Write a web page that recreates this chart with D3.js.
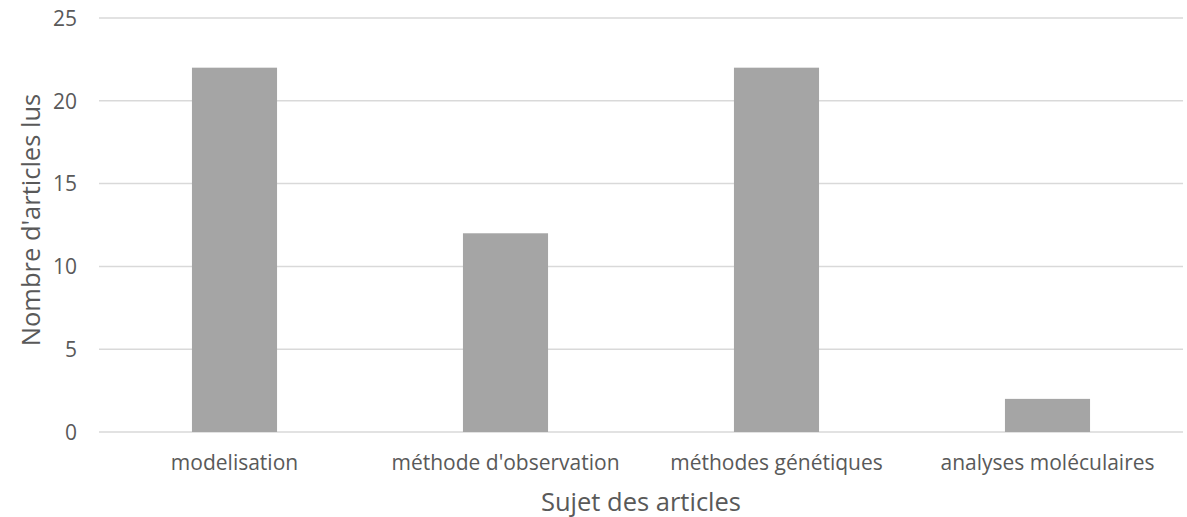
<!DOCTYPE html>
<html>
<head>
<meta charset="utf-8">
<script src="https://cdn.jsdelivr.net/npm/d3@7"></script>
<style>
  html, body { margin: 0; padding: 0; background: #fff; }
  svg text { font-family: "Open Sans", "Noto Sans", sans-serif; fill: #595959; }
</style>
</head>
<body>
<svg id="chart" width="1187" height="517"></svg>
<script>
// Number of articles read per subject
const categories = ["modelisation", "méthode d'observation", "méthodes génétiques", "analyses moléculaires"];
const counts = [22, 12, 22, 2];
const yTicks = [0, 5, 10, 15, 20, 25];
const xTitle = "Sujet des articles";
const yTitle = "Nombre d'articles lus";

const svg = d3.select("#chart");
const margin = { left: 99, right: 4, top: 18, bottom: 85 };
const W = 1187, H = 517;

const x = d3.scaleBand()
  .domain(categories)
  .range([margin.left, W - margin.right])
  .paddingInner(0.686)
  .paddingOuter(0.343);

const y = d3.scaleLinear()
  .domain([0, 25])
  .range([H - margin.bottom, margin.top]);

// horizontal gridlines
svg.append("g")
  .selectAll("line")
  .data(yTicks)
  .join("line")
  .attr("x1", margin.left)
  .attr("x2", W - margin.right)
  .attr("y1", d => y(d))
  .attr("y2", d => y(d))
  .attr("stroke", "#d9d9d9")
  .attr("stroke-width", 1.5);

// bars
svg.append("g")
  .selectAll("rect")
  .data(categories)
  .join("rect")
  .attr("x", d => x(d))
  .attr("width", x.bandwidth())
  .attr("y", (d, i) => y(counts[i]))
  .attr("height", (d, i) => y(0) - y(counts[i]))
  .attr("fill", "#a5a5a5");

// y axis tick labels
const yAxis = d3.axisLeft(y).tickValues(yTicks).tickSize(0).tickPadding(0);
const gy = svg.append("g")
  .attr("transform", `translate(77,0)`)
  .call(yAxis);
gy.select(".domain").remove();
gy.selectAll("text")
  .attr("font-size", 21)
  .attr("dy", "0.35em")
  .style("fill", "#595959")
  .style("font-family", "'Open Sans', sans-serif");

// x axis category labels
const xAxis = d3.axisBottom(x).tickSize(0).tickPadding(0);
const gx = svg.append("g")
  .attr("transform", `translate(0,${y(0)})`)
  .call(xAxis);
gx.select(".domain").remove();
gx.selectAll("text")
  .attr("font-size", 21)
  .attr("y", 38)
  .attr("dy", 0)
  .style("fill", "#595959")
  .style("font-family", "'Open Sans', sans-serif");

// axis titles
svg.append("text")
  .attr("x", (margin.left + W - margin.right) / 2)
  .attr("y", 511)
  .attr("text-anchor", "middle")
  .attr("font-size", 25.5)
  .text(xTitle);

svg.append("text")
  .attr("transform", `translate(40,220) rotate(-90)`)
  .attr("text-anchor", "middle")
  .attr("font-size", 25.5)
  .text(yTitle);
</script>
</body>
</html>
